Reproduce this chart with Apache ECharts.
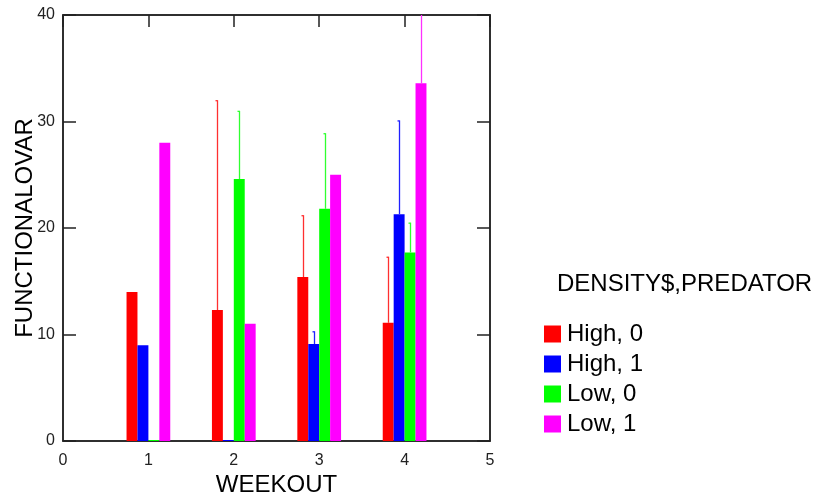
<!DOCTYPE html>
<html>
<head>
<meta charset="utf-8">
<script src="https://cdn.jsdelivr.net/npm/echarts@6/dist/echarts.min.js"></script>
<style>html,body{margin:0;padding:0;background:#fff;}#c{width:827px;height:502px;}</style>
</head>
<body>
<div id="c"></div>
<script>
var weeks = [1, 2, 3, 4];
var xTicks = [0, 1, 2, 3, 4, 5];
var yTicks = [0, 10, 20, 30, 40];
var seriesNames = ['High, 0', 'High, 1', 'Low, 0', 'Low, 1'];
var seriesColors = ['#ff0000', '#0000ff', '#00ff00', '#ff00ff'];
var errColors = ['#ff3030', '#2020ff', '#30ff30', '#ff30ff'];
var high0 = [14.0, 12.3, 15.4, 11.1];
var high1 = [9.0, 0, 9.1, 21.3];
var low0 = [0, 24.6, 21.8, 17.7];
var low1 = [28.0, 11.0, 25.0, 33.6];
var high0Err = [null, 32.0, 21.2, 17.3];
var high1Err = [null, null, 10.3, 30.1];
var low0Err = [null, 31.0, 28.9, 20.5];
var low1Err = [null, null, null, 42.0];

var values = [high0, high1, low0, low1];
var errs = [high0Err, high1Err, low0Err, low1Err];
var BW = 0.128;
var offsets = [-2, -1, 0, 1];
var font = 'Arial, "Liberation Sans", sans-serif';

var series = [];
values.forEach(function (vals, si) {
  series.push({
    name: seriesNames[si],
    type: 'custom',
    clip: true,
    itemStyle: { color: seriesColors[si] },
    data: weeks.map(function (w, i) { return [w, vals[i]]; }),
    renderItem: function (params, api) {
      var x = api.value(0), v = api.value(1);
      var p1 = api.coord([x + offsets[si] * BW, v]);
      var p2 = api.coord([x + (offsets[si] + 1) * BW, 0]);
      var h = Math.max(p2[1] - p1[1], 1);
      return {
        type: 'rect',
        shape: { x: p1[0], y: p2[1] - h, width: p2[0] - p1[0], height: h },
        style: { fill: seriesColors[si] }
      };
    }
  });
  series.push({
    name: 'err' + si,
    type: 'custom',
    clip: true,
    silent: true,
    itemStyle: { color: errColors[si] },
    data: weeks.map(function (w, i) { return errs[si][i] == null ? null : [w, vals[i], errs[si][i]]; }).filter(function (d) { return d; }),
    renderItem: function (params, api) {
      var x = api.value(0) + (offsets[si] + 0.5) * BW;
      var a = api.coord([x, api.value(1)]);
      var b = api.coord([x, api.value(2)]);
      var cx = Math.round(a[0]) + 0.5;
      return {
        type: 'group',
        children: [
          { type: 'line', shape: { x1: cx, y1: a[1], x2: cx, y2: b[1] }, style: { stroke: errColors[si], lineWidth: 1.3, fill: null } },
          { type: 'line', shape: { x1: cx - 2, y1: b[1] + 0.5, x2: cx, y2: b[1] + 0.5 }, style: { stroke: errColors[si], lineWidth: 1.3, fill: null } }
        ]
      };
    }
  });
});

function ls() { return { color: '#222', width: 1.5 }; }
var chart = echarts.init(document.getElementById('c'), null, { renderer: 'canvas' });
chart.setOption({
  animation: false,
  backgroundColor: '#fff',
  title: {
    text: 'DENSITY$,PREDATOR',
    left: 552, top: 267,
    textStyle: { fontFamily: font, fontSize: 24, fontWeight: 'normal', color: '#000' }
  },
  legend: {
    data: seriesNames.map(function (n) { return { name: n, icon: 'rect' }; }),
    orient: 'vertical',
    left: 539, top: 317,
    itemWidth: 17, itemHeight: 17, itemGap: 6,
    textStyle: { fontFamily: font, fontSize: 24, color: '#000', padding: [0, 0, 0, 1] }
  },
  grid: { left: 63, top: 15, right: 337, bottom: 61, outerBoundsMode: 'none', containLabel: false, show: true, borderColor: '#222', borderWidth: 1.5, backgroundColor: 'transparent' },
  xAxis: [{
    type: 'value', min: xTicks[0], max: xTicks[xTicks.length - 1], interval: 1,
    position: 'bottom',
    name: 'WEEKOUT', nameLocation: 'middle', nameGap: 32, nameMoveOverlap: false,
    nameTextStyle: { fontFamily: font, fontSize: 24, color: '#000' },
    axisLine: { show: true, onZero: false, lineStyle: ls() },
    axisTick: { show: false },
    splitLine: { show: false },
    axisLabel: { fontFamily: font, fontSize: 16, color: '#222', margin: 12 }
  }, {
    type: 'value', min: xTicks[0], max: xTicks[xTicks.length - 1], interval: 1,
    position: 'top',
    axisLine: { show: true, onZero: false, lineStyle: ls() },
    axisTick: { show: true, inside: true, length: 12, lineStyle: ls() },
    splitLine: { show: false },
    axisLabel: { show: false }
  }],
  yAxis: [{
    type: 'value', min: yTicks[0], max: yTicks[yTicks.length - 1], interval: 10,
    position: 'left',
    name: 'FUNCTIONALOVAR', nameLocation: 'middle', nameGap: 26, nameRotate: 90, nameMoveOverlap: false,
    nameTextStyle: { fontFamily: font, fontSize: 24, color: '#000' },
    axisLine: { show: true, onZero: false, lineStyle: ls() },
    axisTick: { show: true, inside: true, length: 13, lineStyle: ls() },
    splitLine: { show: false },
    axisLabel: { fontFamily: font, fontSize: 16, color: '#222', margin: 8 }
  }, {
    type: 'value', min: yTicks[0], max: yTicks[yTicks.length - 1], interval: 10,
    position: 'right',
    axisLine: { show: true, onZero: false, lineStyle: ls() },
    axisTick: { show: true, inside: true, length: 13, lineStyle: ls() },
    splitLine: { show: false },
    axisLabel: { show: false }
  }],
  series: series
});
</script>
</body>
</html>
